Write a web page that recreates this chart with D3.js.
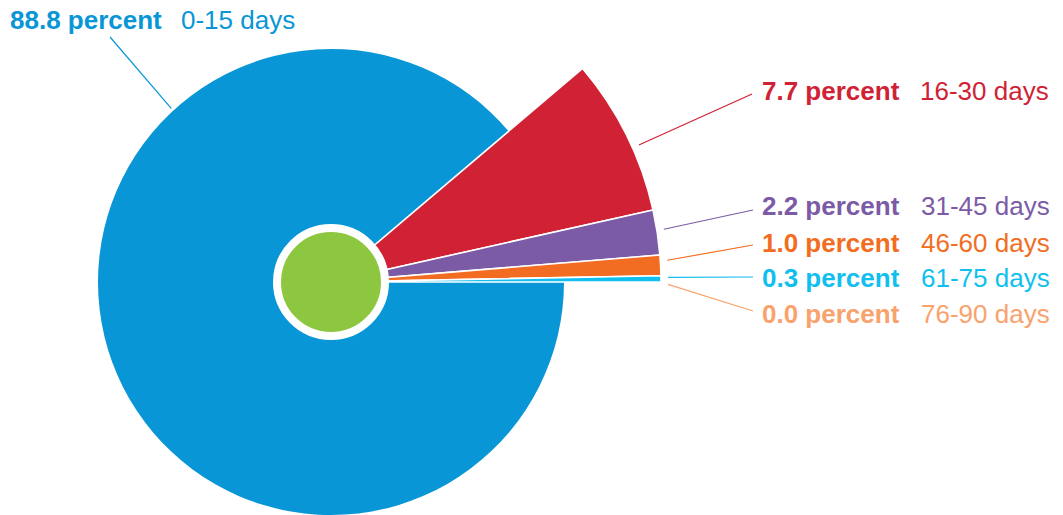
<!DOCTYPE html>
<html>
<head>
<meta charset="utf-8">
<script src="https://cdn.jsdelivr.net/npm/d3@7"></script>
<style>
  html, body { margin: 0; padding: 0; background: #fff; }
  svg text { font-family: "Liberation Sans", Arial, Helvetica, sans-serif; }
</style>
</head>
<body>
<div id="chart"></div>
<script>
// data
const ranges = ["0-15 days", "16-30 days", "31-45 days", "46-60 days", "61-75 days", "76-90 days"];
const percents = [88.8, 7.7, 2.2, 1.0, 0.3, 0.0];
const colors = ["#0896D6", "#D02234", "#7B5BA6", "#F26D21", "#11BFEF", "#F9A26C"];

const width = 1063, height = 515;
const cx = 331, cy = 282;
const rMain = 233, rOut = 330;

const svg = d3.select("#chart").append("svg")
    .attr("width", width)
    .attr("height", height);

const g = svg.append("g")
    .attr("transform", "translate(" + cx + "," + cy + ")");

const rows = ranges.map((r, i) => ({range: r, pct: percents[i], color: colors[i]}));

const pie = d3.pie()
    .sort(null)
    .value(d => d.pct)
    .startAngle(Math.PI / 2)
    .endAngle(Math.PI / 2 + 2 * Math.PI);

const arcs = pie(rows);

// first slice stays at the base radius, the rest are pulled out further
const arc = d3.arc()
    .innerRadius(0)
    .outerRadius((d, i) => i === 0 ? rMain : rOut);

g.selectAll("path.slice")
    .data(arcs.filter(d => d.data.pct > 0))
    .enter().append("path")
    .attr("class", "slice")
    .attr("d", (d, i) => arc(d, i))
    .attr("fill", d => d.data.color)
    .attr("stroke", "#fff")
    .attr("stroke-width", (d, i) => i === 0 ? 0 : 1.6)
    .attr("stroke-linejoin", "round");

// centre disc
g.append("circle")
    .attr("r", 54)
    .attr("fill", "#8DC63F")
    .attr("stroke", "#fff")
    .attr("stroke-width", 8);

// label layout: where each label sits and where its leader ends
const labelPos = [
    {x: 10,  y: 29,  x2: 110, y2: 37,  col2: 181, ang: -42.6},
    {x: 762, y: 100, x2: 752, y2: 94,  col2: 920, ang: 66},
    {x: 762, y: 215, x2: 753, y2: 210, col2: 921, ang: 81},
    {x: 762, y: 252, x2: 753, y2: 245, col2: 921, ang: 86.3},
    {x: 762, y: 287, x2: 753, y2: 277, col2: 921, ang: 89.2},
    {x: 762, y: 323, x2: 753, y2: 311, col2: 921, ang: 90.4}
];

const labels = svg.append("g");

arcs.forEach((d, i) => {
    const p = labelPos[i];
    const a = p.ang !== null ? p.ang * Math.PI / 180 : (d.startAngle + d.endAngle) / 2;
    const r0 = (i === 0 ? rMain : rOut) + (i === 0 ? 3 : 7);
    const x1 = cx + r0 * Math.sin(a);
    const y1 = cy - r0 * Math.cos(a);

    labels.append("line")
        .attr("x1", x1).attr("y1", y1)
        .attr("x2", p.x2).attr("y2", p.y2)
        .attr("stroke", d.data.color)
        .attr("stroke-width", 1.2);

    labels.append("text")
        .attr("x", p.x).attr("y", p.y)
        .attr("fill", d.data.color)
        .style("font-size", "26px")
        .style("font-weight", "bold")
        .text(d.data.pct.toFixed(1) + " percent");

    labels.append("text")
        .attr("x", p.col2).attr("y", p.y)
        .attr("fill", d.data.color)
        .style("font-size", "26px")
        .text(d.data.range);
});
</script>
</body>
</html>
